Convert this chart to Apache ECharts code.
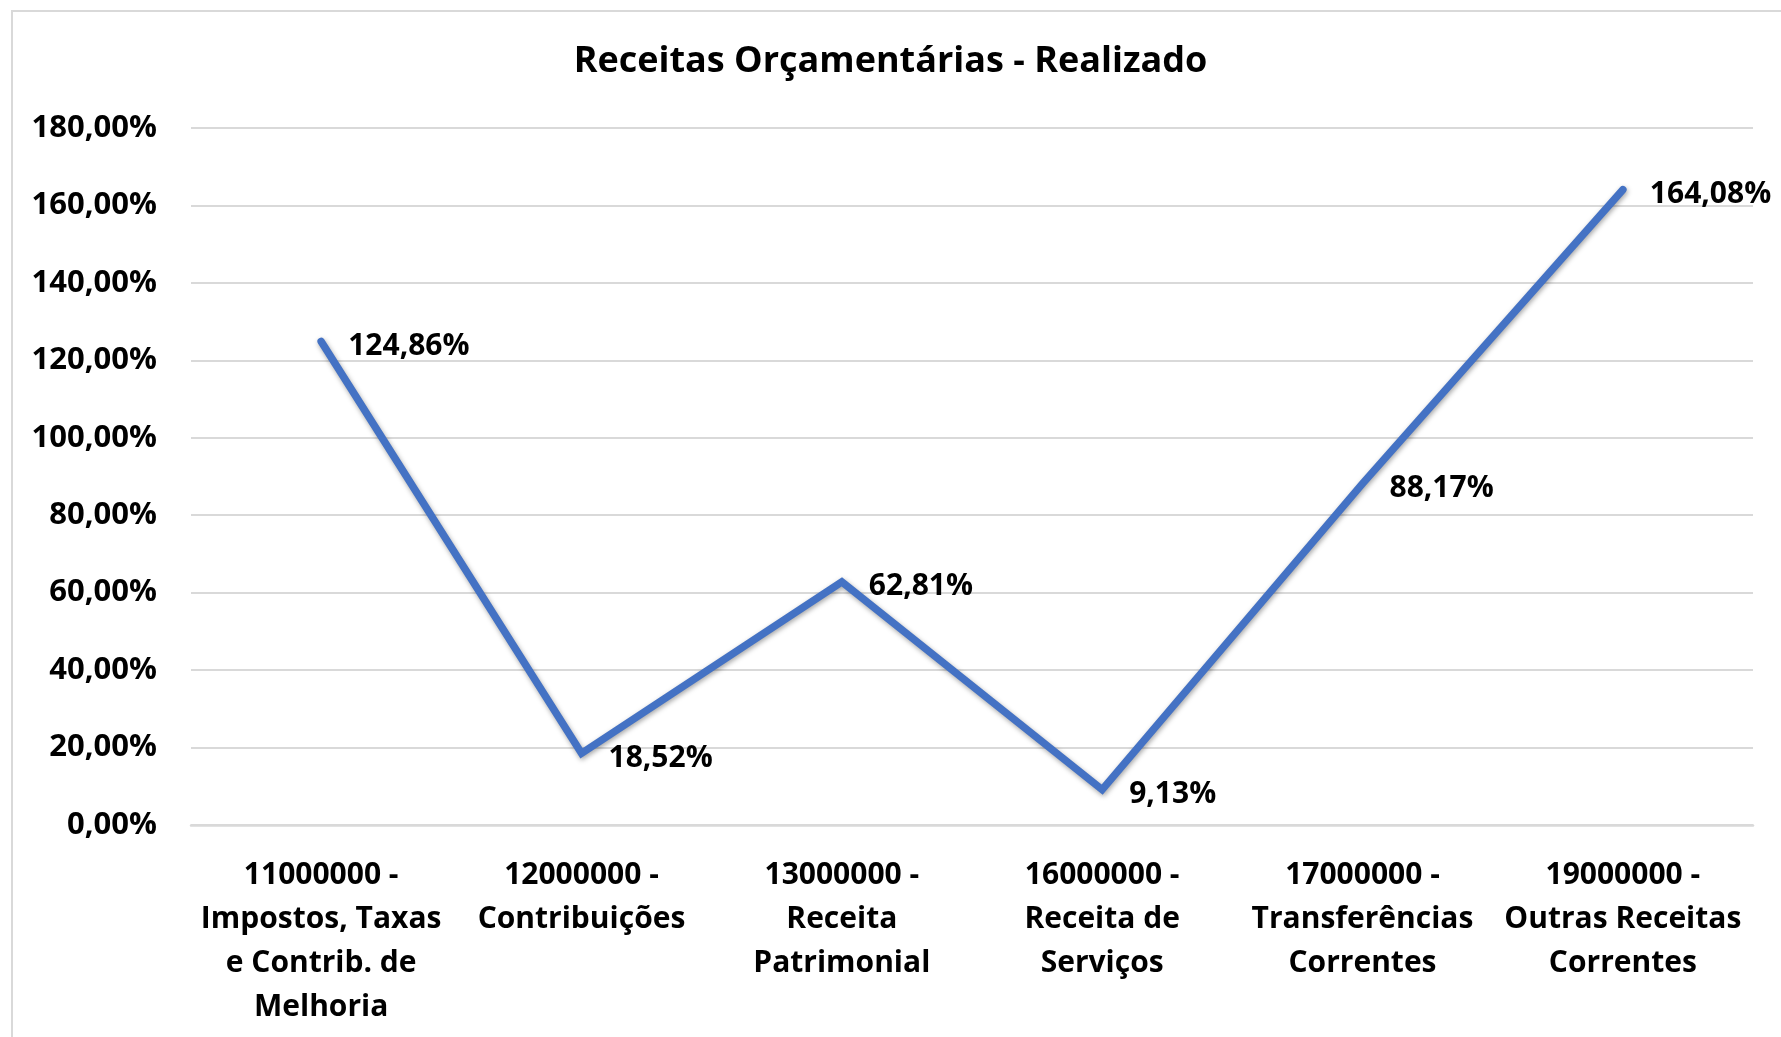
<!DOCTYPE html>
<html>
<head>
<meta charset="utf-8">
<script src="https://cdn.jsdelivr.net/npm/echarts@6/dist/echarts.min.js"></script>
<style>
  html, body { margin: 0; padding: 0; background: #fff; }
  #chart { width: 1781px; height: 1037px; }
</style>
</head>
<body>
<div id="chart"></div>
<script>
// categorias (contas de receita)
const categories = [
  '11000000 -\nImpostos, Taxas\ne Contrib. de\nMelhoria',
  '12000000 -\nContribuições',
  '13000000 -\nReceita\nPatrimonial',
  '16000000 -\nReceita de\nServiços',
  '17000000 -\nTransferências\nCorrentes',
  '19000000 -\nOutras Receitas\nCorrentes'
]
// % realizado
const realizado = [124.86, 18.52, 62.81, 9.13, 88.17, 164.08]
const yTicks = { min: 0, max: 180, interval: 20 }

const FONT = '"Open Sans", "Noto Sans", sans-serif'
const fmtPct = v => v.toFixed(2).replace('.', ',') + '%'

let chart = echarts.init(document.getElementById('chart'))
let options = {
  backgroundColor: '#fff',
  textStyle: { fontFamily: FONT },
  title: {
    text: 'Receitas Orçamentárias - Realizado',
    left: 'center',
    top: 39,
    textStyle: { fontFamily: FONT, fontWeight: 'bold', fontSize: 36, color: '#000' }
  },
  graphic: [{
    type: 'rect',
    shape: { x: 12, y: 11, width: 1800, height: 1100 },
    style: { fill: 'none', stroke: '#d9d9d9', lineWidth: 2 },
    silent: true
  }],
  grid: { left: 191, right: 28, top: 128, bottom: 212 },
  xAxis: {
    type: 'category',
    data: categories,
    boundaryGap: true,
    axisLine: { show: true, lineStyle: { color: '#d9d9d9', width: 2.5 } },
    axisTick: { show: false },
    axisLabel: {
      interval: 0,
      margin: 28,
      lineHeight: 44,
      fontFamily: FONT,
      fontWeight: 'bold',
      fontSize: 30,
      color: '#000'
    }
  },
  yAxis: {
    type: 'value',
    min: yTicks.min,
    max: yTicks.max,
    interval: yTicks.interval,
    axisLine: { show: false },
    axisTick: { show: false },
    splitLine: { lineStyle: { color: '#d9d9d9', width: 2 } },
    axisLabel: {
      margin: 34,
      fontFamily: FONT,
      fontWeight: 'bold',
      fontSize: 31,
      color: '#000',
      formatter: fmtPct
    }
  },
  series: [{
    type: 'line',
    data: realizado,
    showSymbol: true,
    symbol: 'circle',
    symbolSize: 2,
    itemStyle: { color: 'rgba(68,114,196,0)', borderWidth: 0 },
    lineStyle: {
      color: '#4472C4',
      width: 7.5,
      cap: 'round',
      join: 'miter',
      shadowColor: 'rgba(0,0,0,0.35)',
      shadowBlur: 5,
      shadowOffsetX: 1,
      shadowOffsetY: 2
    },
    label: {
      show: true,
      position: 'right',
      distance: 26,
      offset: [0, 5],
      fontFamily: FONT,
      fontWeight: 'bold',
      fontSize: 30,
      color: '#000',
      formatter: p => fmtPct(p.value)
    },
    animation: false
  }],
  animation: false
}
chart.setOption(options)
</script>
</body>
</html>
